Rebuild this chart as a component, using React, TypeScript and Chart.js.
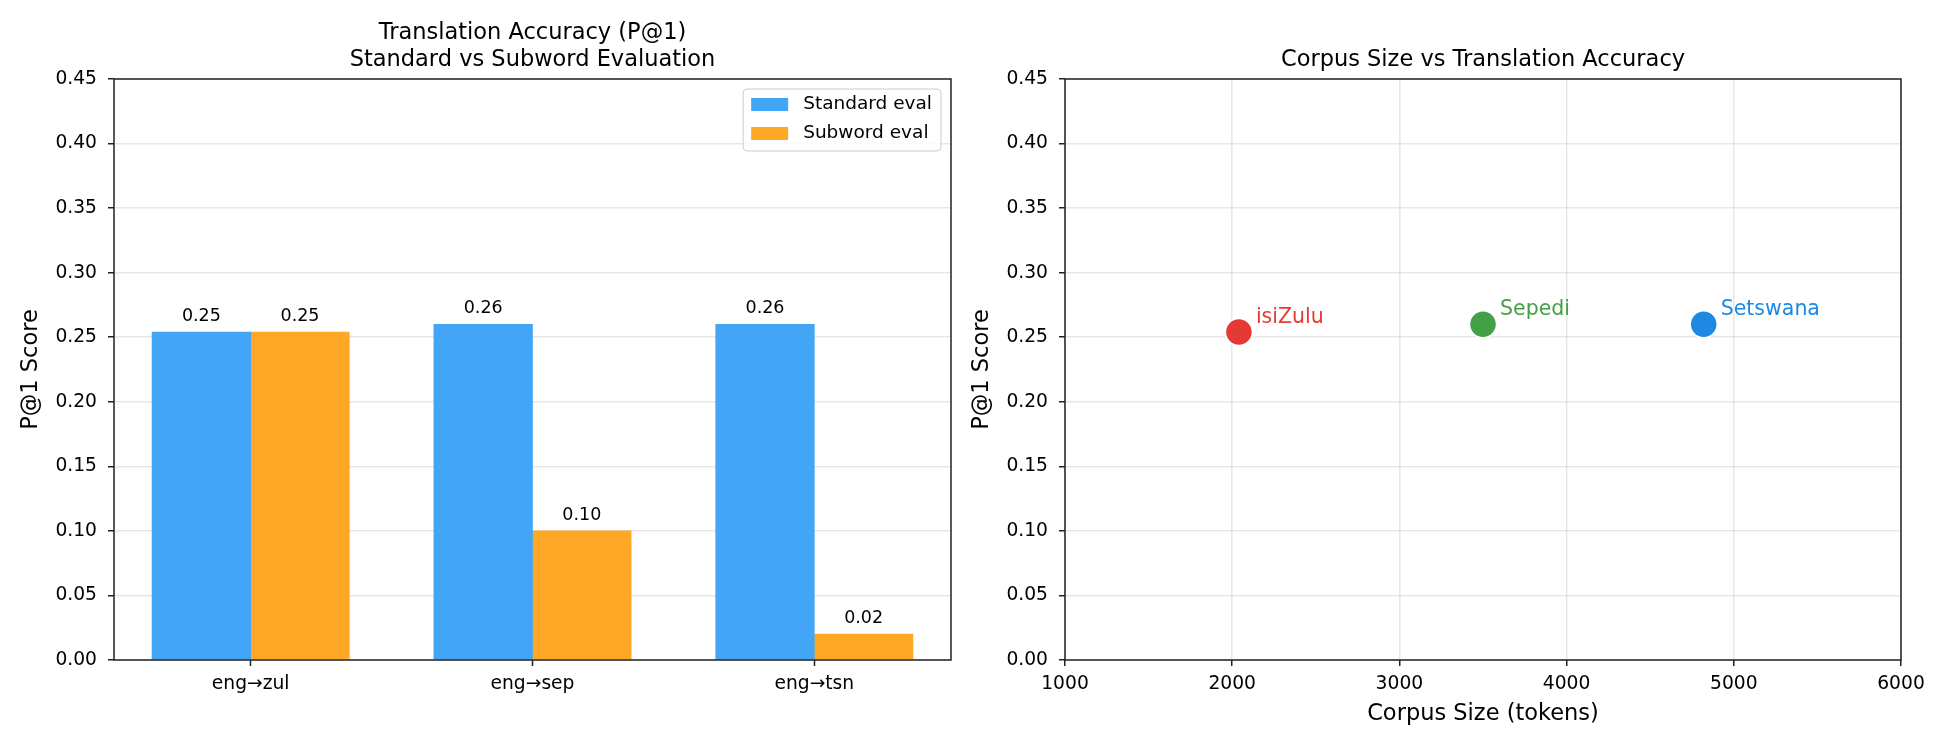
import React, { useEffect, useRef } from 'react';
import { Chart, registerables } from 'chart.js';

Chart.register(...registerables);

// Left panel: P@1 per translation direction, two evaluation modes
const pairs = ['eng→zul', 'eng→sep', 'eng→tsn'];
const standardScores = [0.254, 0.26, 0.26];
const subwordScores = [0.254, 0.1, 0.02];
const seriesNames = ['Standard eval', 'Subword eval'];
const seriesColors = ['#42A5F5', '#FFA726'];

// Right panel: corpus size against accuracy per language
const languages = ['isiZulu', 'Sepedi', 'Setswana'];
const corpusSizes = [2040, 3500, 4820];
const languageScores = [0.254, 0.26, 0.26];
const languageColors = ['#E53935', '#43A047', '#1E88E5'];

// Axis ticks
const scoreTicks = [0, 0.05, 0.1, 0.15, 0.2, 0.25, 0.3, 0.35, 0.4, 0.45];
const corpusTicks = [1000, 2000, 3000, 4000, 5000, 6000];

const FONT = 'DejaVu Sans';
const GRID = 'rgba(176,176,176,0.3)';
const SPINE = '#222222';
const BAR_WIDTH = 0.35;

const frame = {
  id: 'frame',
  afterDraw(chart: any) {
    const { ctx, chartArea: a } = chart;
    ctx.save();
    ctx.strokeStyle = SPINE;
    ctx.lineWidth = 1.5;
    ctx.strokeRect(a.left, a.top, a.right - a.left, a.bottom - a.top);
    ctx.restore();
  },
};

const barValueLabels = {
  id: 'barValueLabels',
  afterDatasetsDraw(chart: any) {
    const { ctx } = chart;
    ctx.save();
    ctx.font = `17.5px "${FONT}"`;
    ctx.fillStyle = '#000';
    ctx.textAlign = 'center';
    ctx.textBaseline = 'alphabetic';
    chart.data.datasets.forEach((ds: any, di: number) => {
      chart.getDatasetMeta(di).data.forEach((el: any, i: number) => {
        ctx.fillText(ds.data[i].y.toFixed(2), el.x, el.y - 11);
      });
    });
    ctx.restore();
  },
};

const boxLegend = {
  id: 'boxLegend',
  afterDraw(chart: any) {
    const { ctx, chartArea } = chart;
    ctx.save();
    ctx.font = `18.5px "${FONT}"`;
    const names = chart.data.datasets.map((d: any) => d.label);
    const textW = Math.max(...names.map((n: string) => ctx.measureText(n).width));
    const w = 60 + textW + 9;
    const h = 62;
    const x0 = chartArea.right - 10 - w;
    const y0 = chartArea.top + 10;
    const r = 4;
    ctx.beginPath();
    ctx.moveTo(x0 + r, y0);
    ctx.lineTo(x0 + w - r, y0);
    ctx.arcTo(x0 + w, y0, x0 + w, y0 + r, r);
    ctx.lineTo(x0 + w, y0 + h - r);
    ctx.arcTo(x0 + w, y0 + h, x0 + w - r, y0 + h, r);
    ctx.lineTo(x0 + r, y0 + h);
    ctx.arcTo(x0, y0 + h, x0, y0 + h - r, r);
    ctx.lineTo(x0, y0 + r);
    ctx.arcTo(x0, y0, x0 + r, y0, r);
    ctx.closePath();
    ctx.fillStyle = 'rgba(255,255,255,0.8)';
    ctx.fill();
    ctx.strokeStyle = '#cccccc';
    ctx.lineWidth = 1;
    ctx.stroke();
    chart.data.datasets.forEach((ds: any, i: number) => {
      const sy = y0 + 9 + i * 29;
      ctx.fillStyle = ds.backgroundColor;
      ctx.fillRect(x0 + 8, sy, 37, 13);
      ctx.fillStyle = '#000';
      ctx.textAlign = 'left';
      ctx.textBaseline = 'middle';
      ctx.fillText(ds.label, x0 + 60, sy + 6.5);
    });
    ctx.restore();
  },
};

const pointNameLabels = {
  id: 'pointNameLabels',
  afterDatasetsDraw(chart: any) {
    const { ctx } = chart;
    ctx.save();
    ctx.font = `20.5px "${FONT}"`;
    ctx.textAlign = 'left';
    ctx.textBaseline = 'alphabetic';
    chart.getDatasetMeta(0).data.forEach((pt: any, i: number) => {
      ctx.fillStyle = languageColors[i];
      ctx.fillText(languages[i], pt.x + 17, pt.y - 9);
    });
    ctx.restore();
  },
};

const tickFont = { family: FONT, size: 18.7 };
const labelFont = { family: FONT, size: 22.5, weight: 'normal' as const, lineHeight: 1.2 };

function scoreAxis(width: number, titlePad: number, onTop: boolean) {
  return {
    type: 'linear' as const,
    min: 0,
    max: 0.45,
    z: onTop ? 1 : 0,
    afterFit: (s: any) => {
      s.width = width;
    },
    afterBuildTicks: (s: any) => {
      s.ticks = scoreTicks.map((v) => ({ value: v }));
    },
    ticks: {
      font: tickFont,
      color: '#000',
      padding: 11,
      callback: (v: any) => Number(v).toFixed(2),
    },
    grid: {
      color: GRID,
      lineWidth: 1.5,
      drawTicks: true,
      tickLength: 6,
      tickColor: SPINE,
      tickWidth: 1.5,
    },
    border: { display: false },
    title: {
      display: true,
      text: 'P@1 Score',
      font: labelFont,
      color: '#000',
      padding: { top: titlePad, bottom: 0 },
    },
  };
}

function barConfig(): any {
  const span = pairs.length - 1 + 2 * BAR_WIDTH;
  const series = [standardScores, subwordScores];
  return {
    type: 'bar',
    data: {
      datasets: series.map((values, s) => ({
        label: seriesNames[s],
        data: values.map((y, i) => ({ x: i + (s === 0 ? -BAR_WIDTH / 2 : BAR_WIDTH / 2), y })),
        backgroundColor: seriesColors[s],
        borderWidth: 0,
        grouped: false,
        categoryPercentage: 1,
        barPercentage: 1,
      })),
    },
    options: {
      responsive: false,
      devicePixelRatio: 1,
      animation: false,
      events: [],
      layout: { padding: { left: 0, right: 9, top: 0, bottom: 0 } },
      plugins: {
        legend: { display: false },
        tooltip: { enabled: false },
        title: {
          display: true,
          fullSize: false,
          text: ['Translation Accuracy (P@1)', 'Standard vs Subword Evaluation'],
          font: labelFont,
          color: '#000',
          padding: { top: 19.5, bottom: 5.5 },
        },
      },
      scales: {
        x: {
          type: 'linear',
          offset: false,
          min: -BAR_WIDTH - 0.05 * span,
          max: pairs.length - 1 + BAR_WIDTH + 0.05 * span,
          afterFit: (s: any) => {
            s.height = 90;
          },
          afterBuildTicks: (s: any) => {
            s.ticks = pairs.map((_, i) => ({ value: i }));
          },
          ticks: {
            font: tickFont,
            color: '#000',
            padding: 7,
            maxRotation: 0,
            callback: (v: any) => pairs[Math.round(Number(v))] ?? '',
          },
          grid: {
            offset: false,
            drawOnChartArea: false,
            drawTicks: true,
            tickLength: 6,
            tickColor: SPINE,
            tickWidth: 1.5,
          },
          border: { display: false },
        },
        y: scoreAxis(114, 17.5, true),
      },
    },
    plugins: [barValueLabels, frame, boxLegend],
  };
}

function scatterConfig(): any {
  return {
    type: 'scatter',
    data: {
      datasets: [
        {
          label: 'Languages',
          data: corpusSizes.map((x, i) => ({ x, y: languageScores[i] })),
          backgroundColor: languageColors,
          borderColor: '#ffffff',
          borderWidth: 1.5,
          pointRadius: 13.5,
          pointHoverRadius: 13.5,
        },
      ],
    },
    options: {
      responsive: false,
      devicePixelRatio: 1,
      animation: false,
      events: [],
      layout: { padding: { left: 0, right: 49, top: 0, bottom: 0 } },
      plugins: {
        legend: { display: false },
        tooltip: { enabled: false },
        title: {
          display: true,
          fullSize: false,
          text: 'Corpus Size vs Translation Accuracy',
          font: labelFont,
          color: '#000',
          padding: { top: 46.5, bottom: 5.5 },
        },
      },
      scales: {
        x: {
          type: 'linear',
          min: 1000,
          max: 6000,
          afterFit: (s: any) => {
            s.height = 90;
          },
          afterBuildTicks: (s: any) => {
            s.ticks = corpusTicks.map((v) => ({ value: v }));
          },
          ticks: {
            font: tickFont,
            color: '#000',
            padding: 7,
            maxRotation: 0,
            callback: (v: any) => String(v),
          },
          grid: {
            color: GRID,
            lineWidth: 1.5,
            drawTicks: true,
            tickLength: 6,
            tickColor: SPINE,
            tickWidth: 1.5,
          },
          border: { display: false },
          title: {
            display: true,
            text: 'Corpus Size (tokens)',
            font: labelFont,
            color: '#000',
            padding: { top: 0, bottom: 22.5 },
          },
        },
        y: scoreAxis(105, 8.5, false),
      },
    },
    plugins: [pointNameLabels, frame],
  };
}

export default function App() {
  const leftRef = useRef<HTMLCanvasElement>(null);
  const rightRef = useRef<HTMLCanvasElement>(null);

  useEffect(() => {
    const left = new Chart(leftRef.current as HTMLCanvasElement, barConfig());
    const right = new Chart(rightRef.current as HTMLCanvasElement, scatterConfig());
    return () => {
      left.destroy();
      right.destroy();
    };
  }, []);

  return (
    <div style={{ position: 'absolute', left: 0, top: 0, width: 1950, height: 750, background: '#ffffff' }}>
      <canvas
        ref={leftRef}
        width={960}
        height={750}
        style={{ position: 'absolute', left: 0, top: 0, width: 960, height: 750, display: 'block' }}
      />
      <canvas
        ref={rightRef}
        width={990}
        height={750}
        style={{ position: 'absolute', left: 960, top: 0, width: 990, height: 750, display: 'block' }}
      />
    </div>
  );
}
